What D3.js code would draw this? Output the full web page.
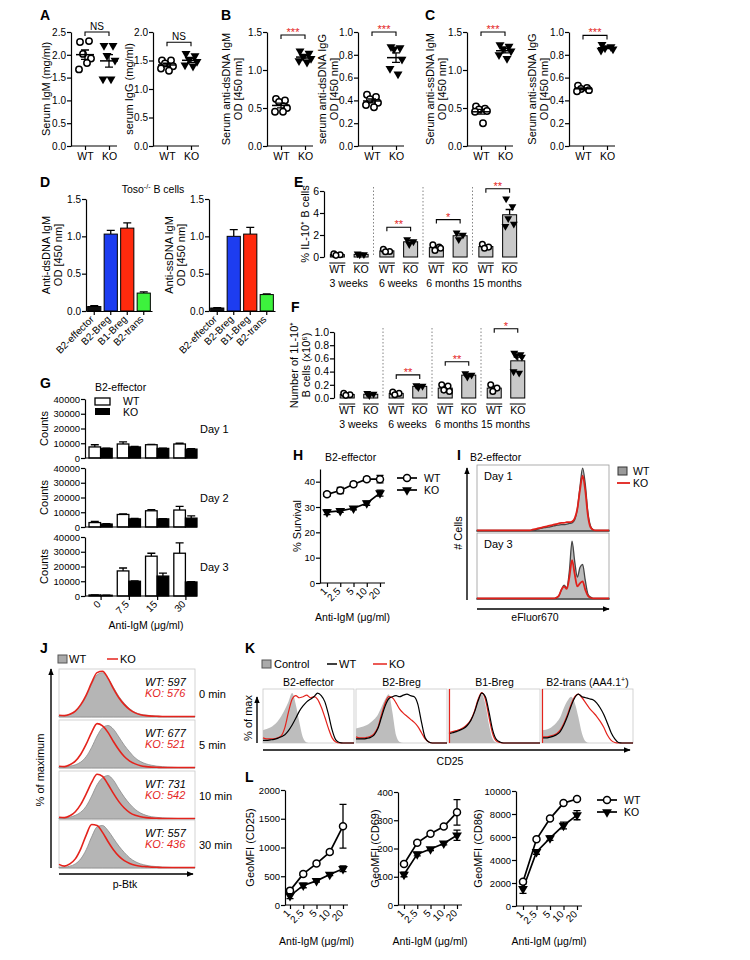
<!DOCTYPE html>
<html>
<head>
<meta charset="utf-8">
<script src="https://cdn.jsdelivr.net/npm/d3@7"></script>
<style>
  body { margin: 0; background: #fff; }
  svg { font-family: "Liberation Sans", Arial, sans-serif; }
</style>
</head>
<body>
<svg id="fig" width="750" height="960"></svg>
<script>
// ---- data ----
var groups = ["WT", "KO"];

// A: serum Ig
var igmWT = [2.28, 2.3, 2.02, 1.92, 1.68, 1.82];
var igmKO = [2.2, 2.2, 1.98, 1.88, 1.47, 1.47];
var iggWT = [1.5, 1.5, 1.45, 1.4, 1.36, 1.32];
var iggKO = [1.62, 1.58, 1.52, 1.48, 1.42, 1.4];
// B: anti-dsDNA
var dsIgmWT = [0.62, 0.6, 0.58, 0.5, 0.45, 0.45];
var dsIgmKO = [1.25, 1.22, 1.18, 1.15, 1.12, 1.1];
var dsIggWT = [0.45, 0.43, 0.41, 0.38, 0.36, 0.34];
var dsIggKO = [0.87, 0.86, 0.85, 0.76, 0.68, 0.63];
// C: anti-ssDNA
var ssIgmWT = [0.52, 0.49, 0.48, 0.46, 0.45, 0.3];
var ssIgmKO = [1.33, 1.31, 1.28, 1.25, 1.2, 1.15];
var ssIggWT = [0.53, 0.51, 0.5, 0.49, 0.48];
var ssIggKO = [0.89, 0.87, 0.86, 0.85, 0.84];

// D: transfer into Toso-/-
var subsets = ["B2-effector", "B2-Breg", "B1-Breg", "B2-trans"];
var subsetColors = ["#111111", "#1d3df0", "#ff2a0d", "#3df23d"];
var dsTrans = [0.06, 1.03, 1.11, 0.24];
var dsTransErr = [0.01, 0.05, 0.07, 0.015];
var ssTrans = [0.04, 1.0, 1.03, 0.22];
var ssTransErr = [0.005, 0.09, 0.09, 0.01];

// E, F: IL-10+ B cells by age
var ageGroups = ["3 weeks", "6 weeks", "6 months", "15 months"];
var il10PctWT = [[0.3, 0.2, 0.15], [0.7, 0.5, 0.48], [1.1, 0.9, 0.6, 0.8], [1.15, 0.9, 0.8]];
var il10PctKO = [[0.3, 0.22, 0.2], [1.6, 1.4, 1.15], [2.2, 2.0, 1.6], [5.3, 4.6, 3.5, 3.0, 2.8]];
var il10PctSig = ["", "**", "*", "**"];
var il10PctSigAt = [0, 2.7, 3.4, 6.2];
var il10NumWT = [[0.07, 0.05, 0.04], [0.09, 0.07, 0.05], [0.2, 0.18, 0.12, 0.1], [0.2, 0.15, 0.1]];
var il10NumKO = [[0.07, 0.06, 0.04], [0.19, 0.18, 0.16], [0.37, 0.35, 0.32], [0.68, 0.66, 0.64, 0.62, 0.4, 0.38]];
var il10NumSig = ["", "**", "**", "*"];
var il10NumSigAt = [0, 0.35, 0.55, 1.05];

// G: cell counts
var gDoses = ["0", "7.5", "15", "30"];
var gDays = ["Day 1", "Day 2", "Day 3"];
var countWT = [[7500, 9500, 9000, 9500], [3000, 8500, 11000, 11500], [700, 17000, 27000, 29000]];
var countWTerr = [[1500, 1500, 300, 500], [800, 300, 700, 2500], [100, 2000, 2000, 7000]];
var countKO = [[6500, 7500, 6500, 6000], [2000, 5500, 5500, 6000], [500, 10000, 13500, 9500]];
var countKOerr = [[200, 300, 200, 300], [200, 300, 200, 1500], [100, 300, 2000, 300]];

// H, L: dose response
var doses = ["1", "2.5", "5", "10", "20"];
var survWT = [35, 36.5, 39, 41, 41], survWTerr = [0.8, 1.2, 0.8, 0.8, 1.5];
var survKO = [28, 28.5, 29.5, 31.5, 35.5], survKOerr = [1, 0.6, 0.6, 0.8, 1.2];
var cd25WT = [250, 540, 720, 920, 1370], cd25WTerr = [30, 30, 30, 30, 380];
var cd25KO = [160, 340, 420, 530, 630], cd25KOerr = [50, 40, 20, 20, 50];
var cd69WT = [145, 220, 252, 278, 328], cd69WTerr = [5, 5, 5, 5, 45];
var cd69KO = [108, 180, 198, 218, 247], cd69KOerr = [8, 6, 5, 5, 18];
var cd86WT = [2100, 5800, 7600, 8950, 9300], cd86WTerr = [100, 100, 100, 100, 100];
var cd86KO = [1500, 4700, 5900, 7000, 7900], cd86KOerr = [400, 200, 200, 300, 400];

// I: eFluor670 histograms (51 bins, low -> high)
var efDay1WT = [.01,.01,.01,.01,.01,.01,.01,.01,.01,.01,.01,.01,.01,.01,.01,.01,.01,.01,.01,.01,.01,.015,.02,.03,.04,.05,.055,.06,.07,.08,.09,.095,.1,.1,.11,.12,.13,.18,.35,.7,1.0,.75,.3,.08,.02,.01,.01,.01,.01,.01,.01];
var efDay1KO = [.01,.01,.01,.01,.01,.01,.01,.01,.01,.01,.01,.01,.01,.01,.01,.01,.01,.01,.01,.01,.01,.02,.03,.04,.05,.06,.07,.08,.09,.1,.11,.12,.13,.13,.14,.14,.15,.2,.35,.65,.88,.65,.25,.06,.02,.01,.01,.01,.01,.01,.01];
var efDay3WT = [.01,.01,.01,.01,.01,.01,.01,.01,.01,.01,.01,.01,.01,.01,.01,.01,.01,.01,.01,.01,.01,.01,.01,.01,.01,.01,.01,.01,.01,.01,.02,.05,.15,.22,.18,.45,.92,.6,.35,.5,.55,.3,.08,.03,.01,.01,.01,.01,.01,.01,.01];
var efDay3KO = [.01,.01,.01,.01,.01,.01,.01,.01,.01,.01,.01,.01,.01,.01,.01,.01,.01,.01,.01,.01,.01,.01,.01,.01,.01,.01,.01,.01,.01,.01,.02,.05,.15,.2,.16,.35,.62,.4,.2,.25,.28,.15,.05,.02,.01,.01,.01,.01,.01,.01,.01];

// J: p-Btk histograms (26 bins)
var btkTimes = ["0 min", "5 min", "10 min", "30 min"];
var btkMfiWT = [597, 677, 731, 557];
var btkMfiKO = [576, 521, 542, 436];
var btkWT = [
  [.02,.03,.06,.12,.25,.45,.72,.92,.97,.85,.65,.45,.3,.18,.1,.06,.04,.03,.02,.01,.01,.01,.01,.01,.01,.01],
  [.02,.02,.04,.07,.13,.25,.45,.7,.88,.93,.85,.68,.5,.35,.22,.14,.09,.06,.04,.03,.02,.015,.01,.01,.01,.01],
  [.02,.02,.04,.08,.15,.28,.5,.75,.9,.95,.85,.66,.48,.33,.21,.13,.08,.05,.035,.025,.02,.015,.01,.01,.01,.01],
  [.02,.02,.04,.09,.2,.4,.68,.9,.93,.82,.65,.48,.34,.22,.14,.09,.06,.04,.03,.02,.015,.01,.01,.01,.01,.01]];
var btkKO = [
  [.04,.03,.06,.13,.27,.48,.75,.97,1.0,.85,.62,.42,.27,.16,.09,.05,.03,.02,.015,.01,.01,.01,.01,.01,.01,.01],
  [.04,.03,.07,.15,.3,.52,.78,.97,.92,.78,.58,.4,.25,.15,.09,.05,.03,.02,.015,.01,.01,.01,.01,.01,.01,.01],
  [.04,.03,.07,.16,.32,.55,.8,.98,.93,.76,.56,.38,.24,.14,.08,.05,.03,.02,.015,.01,.01,.01,.01,.01,.01,.01],
  [.08,.04,.09,.2,.42,.72,.95,.93,.78,.58,.4,.26,.16,.1,.06,.04,.03,.02,.015,.01,.01,.01,.01,.01,.01,.01]];

// K: CD25 histograms (26 bins)
var cd25Subsets = ["B2-effector", "B2-Breg", "B1-Breg", "B2-trans (AA4.1"];
var cd25Ctrl = [
  [.25,.27,.3,.35,.42,.52,.65,.8,.97,.75,.4,.1,.01,0,0,0,0,0,0,0,0,0,0,0,0,0],
  [.28,.3,.32,.35,.4,.46,.55,.7,.85,.95,.6,.15,.02,0,0,0,0,0,0,0,0,0,0,0,0,0],
  [.2,.22,.25,.27,.3,.35,.45,.6,.85,.95,.75,.35,.08,.01,0,0,0,0,0,0,0,0,0,0,0,0],
  [.25,.26,.28,.33,.4,.5,.68,.82,.9,.78,.5,.18,.03,0,0,0,0,0,0,0,0,0,0,0,0,0]];
var cd25HistWT = [
  [.05,.05,.06,.07,.09,.12,.16,.24,.35,.48,.62,.72,.8,.85,.9,.97,.92,.8,.55,.25,.06,.01,0,0,0,0],
  [.08,.08,.08,.09,.11,.16,.28,.5,.72,.86,.9,.92,.9,.93,.95,.92,.9,.75,.4,.1,.02,0,0,0,0,0],
  [.18,.2,.22,.25,.28,.34,.44,.6,.82,.97,.9,.6,.25,.07,.02,0,0,0,0,0,0,0,0,0,0,0],
  [.1,.1,.11,.13,.16,.22,.35,.52,.72,.88,.95,.9,.88,.86,.84,.78,.68,.55,.38,.2,.08,.01,0,0,0,0]];
var cd25HistKO = [
  [.1,.08,.08,.08,.1,.14,.3,.6,.85,.92,.88,.9,.93,.88,.9,.85,.7,.5,.28,.1,.02,0,0,0,0,0],
  [.12,.1,.1,.11,.13,.18,.3,.55,.78,.9,.88,.78,.66,.58,.52,.46,.4,.32,.2,.08,.02,0,0,0,0,0],
  [.2,.22,.24,.26,.3,.36,.45,.62,.85,.98,.85,.5,.18,.04,.01,0,0,0,0,0,0,0,0,0,0,0],
  [.12,.12,.13,.15,.18,.25,.38,.55,.75,.9,.95,.88,.78,.68,.6,.52,.42,.3,.15,.05,.01,0,0,0,0,0]];

// ---- helpers ----
var svg = d3.select("#fig");
var RED = "#e4231c", FONT = "'Liberation Sans', Arial, sans-serif";
var JIT = [-5, 4, -2, 6, -6, 2, 0];

svg.append("defs").append("marker").attr("id", "arr").attr("viewBox", "0 0 10 10")
    .attr("refX", 9).attr("refY", 5).attr("markerWidth", 5).attr("markerHeight", 5).attr("orient", "auto")
  .append("path").attr("d", "M0,1L10,5L0,9Z").attr("fill", "#000");

function text(g, s, x, y, o) {
  o = o || {};
  return g.append("text").attr("x", x).attr("y", y).attr("font-size", o.size || 11)
    .attr("text-anchor", o.anchor || "start").attr("fill", o.fill || "#000")
    .attr("font-style", o.italic ? "italic" : null).attr("font-weight", o.bold ? "bold" : null)
    .text(s);
}
function yLabel(g, lines, x, cy, size) {
  var t = g.append("text").attr("transform", "translate(" + x + "," + cy + ") rotate(-90)")
    .attr("text-anchor", "middle").attr("font-size", size || 11);
  lines.forEach(function (l, i) { t.append("tspan").attr("x", 0).attr("y", 4 + i * 12).text(l); });
  return t;
}
function styleAxis(ax, size) {
  ax.attr("font-family", FONT).attr("font-size", size || 10.5);
  ax.selectAll(".domain, .tick line").attr("stroke", "#000").attr("stroke-width", 1.2);
  ax.selectAll(".tick text").attr("fill", "#000");
  return ax;
}
function leftAxis(g, y, ticks, fmt, size) {
  return styleAxis(g.append("g").call(d3.axisLeft(y).tickValues(ticks).tickFormat(fmt)
    .tickSize(4).tickPadding(1).tickSizeOuter(0)), size);
}
function rotateLabels(ax) {
  ax.selectAll(".tick text").attr("transform", "rotate(-45)").attr("text-anchor", "end")
    .attr("x", -6).attr("y", 3).attr("dy", "0.35em");
}
function marker(g, kind, cx, cy, r) {
  r = r || 3;
  if (kind === 0) {
    g.append("circle").attr("cx", cx).attr("cy", cy).attr("r", r)
      .attr("fill", "#fff").attr("stroke", "#000").attr("stroke-width", 1.5);
  } else {
    g.append("path").attr("d", d3.symbol().type(d3.symbolTriangle).size(r * r * 3.4)())
      .attr("transform", "translate(" + cx + "," + cy + ") rotate(180)").attr("fill", "#000");
  }
}
function whisker(g, cx, y1, y2, cap) {
  g.append("path").attr("d", "M" + cx + "," + y1 + "V" + y2 + "M" + (cx - cap) + "," + y2 + "H" + (cx + cap))
    .attr("stroke", "#000").attr("stroke-width", 1.3).attr("fill", "none");
}
function bracket(g, x1, x2, y, label, color) {
  g.append("path").attr("d", "M" + x1 + "," + (y + 4) + "V" + y + "H" + x2 + "V" + (y + 4))
    .attr("fill", "none").attr("stroke", "#000").attr("stroke-width", 1.1);
  text(g, label, (x1 + x2) / 2, label === "NS" ? y - 2 : y + 1, { anchor: "middle", fill: color, size: label === "NS" ? 10 : 11 });
}
function arrow(x1, y1, x2, y2) {
  svg.append("line").attr("x1", x1).attr("y1", y1).attr("x2", x2).attr("y2", y2)
    .attr("stroke", "#000").attr("stroke-width", 1.4).attr("marker-end", "url(#arr)");
}
function letter(t, x, y) { text(svg, t, x, y, { size: 14, bold: true }); }
function sem(v) { return d3.deviation(v) / Math.sqrt(v.length); }

// ---- scatter with mean +/- SEM (A, B, C) ----
function dotPlot(o) {
  var h = o.bottom - o.top, w = 46;
  var g = svg.append("g").attr("transform", "translate(" + o.x + "," + o.top + ")");
  var y = d3.scaleLinear().domain(o.domain).range([h, 0]);
  var x = d3.scalePoint().domain(groups).range([14, 38]);
  leftAxis(g, y, o.ticks, d3.format(".1f"), 10);
  var xa = styleAxis(g.append("g").attr("transform", "translate(0," + h + ")")
    .call(d3.axisBottom(x).tickSize(4).tickSizeOuter(0)));
  xa.select(".domain").attr("d", "M0,0H" + w);
  [o.wt, o.ko].forEach(function (vals, gi) {
    var cx = x(groups[gi]);
    vals.forEach(function (v, i) { marker(g, gi, cx + JIT[i % JIT.length], y(v), 3.2); });
    var m = d3.mean(vals), s = sem(vals);
    g.append("line").attr("x1", cx - 9).attr("x2", cx + 9).attr("y1", y(m)).attr("y2", y(m))
      .attr("stroke", "#000").attr("stroke-width", 1.5);
    whisker(g, cx, y(m), y(m + s), 4);
    whisker(g, cx, y(m), y(m - s), 4);
  });
  bracket(g, x("WT"), x("KO"), y(o.sigAt), o.sig, o.sig === "NS" ? "#000" : RED);
  yLabel(g, o.label, o.labelX - o.x, h / 2);
}

letter("A", 40, 20);
dotPlot({ x: 71, top: 32, bottom: 146, domain: [0, 2.5], ticks: [0, 0.5, 1, 1.5, 2, 2.5],
  wt: igmWT, ko: igmKO, sig: "NS", sigAt: 2.5, label: ["Serum IgM (mg/ml)"], labelX: 46 });
dotPlot({ x: 153, top: 32, bottom: 146, domain: [0, 2], ticks: [0, 0.5, 1, 1.5, 2],
  wt: iggWT, ko: iggKO, sig: "NS", sigAt: 1.82, label: ["serum IgG (mg/ml)"], labelX: 129 });
letter("B", 221, 20);
dotPlot({ x: 267, top: 32, bottom: 146, domain: [0, 1.5], ticks: [0, 0.5, 1, 1.5],
  wt: dsIgmWT, ko: dsIgmKO, sig: "***", sigAt: 1.46, label: ["Serum anti-dsDNA IgM", "OD [450 nm]"], labelX: 226 });
dotPlot({ x: 358, top: 32, bottom: 146, domain: [0, 1], ticks: [0, 0.2, 0.4, 0.6, 0.8, 1],
  wt: dsIggWT, ko: dsIggKO, sig: "***", sigAt: 1.0, label: ["serum anti-dsDNA IgG", "OD [450 nm]"], labelX: 322 });
letter("C", 425, 20);
dotPlot({ x: 467, top: 32, bottom: 146, domain: [0, 1.5], ticks: [0, 0.5, 1, 1.5],
  wt: ssIgmWT, ko: ssIgmKO, sig: "***", sigAt: 1.5, label: ["Serum anti-ssDNA IgM", "OD [450 nm]"], labelX: 430 });
dotPlot({ x: 569, top: 32, bottom: 146, domain: [0, 1], ticks: [0, 0.2, 0.4, 0.6, 0.8, 1],
  wt: ssIggWT, ko: ssIggKO, sig: "***", sigAt: 0.97, label: ["Serum anti-ssDNA IgG", "OD [450 nm]"], labelX: 532 });

// ---- D: coloured bars ----
function subsetBars(o) {
  var h = 112, w = 66;
  var g = svg.append("g").attr("transform", "translate(" + o.x + ",199)");
  var y = d3.scaleLinear().domain([0, 1.5]).range([h, 0]);
  var x = d3.scaleBand().domain(subsets).range([0, w]).paddingInner(0.2).paddingOuter(0.1);
  leftAxis(g, y, [0, 0.5, 1, 1.5], d3.format(".1f"), 10);
  subsets.forEach(function (s, i) {
    var cx = x(s) + x.bandwidth() / 2;
    whisker(g, cx, y(o.vals[i]), y(o.vals[i] + o.err[i]), 4);
    g.append("rect").attr("x", x(s)).attr("width", x.bandwidth()).attr("y", y(o.vals[i]))
      .attr("height", h - y(o.vals[i])).attr("fill", subsetColors[i]).attr("stroke", "#000").attr("stroke-width", 1);
  });
  var xa = styleAxis(g.append("g").attr("transform", "translate(0," + h + ")")
    .call(d3.axisBottom(x).tickSize(4).tickSizeOuter(0)), 10);
  rotateLabels(xa);
  yLabel(g, o.label, o.labelX - o.x, h / 2);
}
letter("D", 40, 187);
var toso = text(svg, "Toso", 153, 193, { anchor: "middle", size: 10.5 });
toso.append("tspan").attr("dy", -4).attr("font-size", 7).text("-/-");
toso.append("tspan").attr("dy", 4).text(" B cells");
subsetBars({ x: 86, vals: dsTrans, err: dsTransErr, label: ["Anti-dsDNA IgM", "OD [450 nm]"], labelX: 46 });
subsetBars({ x: 209, vals: ssTrans, err: ssTransErr, label: ["Anti-ssDNA IgM", "OD [450 nm]"], labelX: 169 });

// ---- E, F: grey bars by age ----
function agePlot(o) {
  var h = o.bottom - o.top;
  var g = svg.append("g").attr("transform", "translate(" + o.x + "," + o.top + ")");
  var y = d3.scaleLinear().domain(o.domain).range([h, 0]);
  var band = d3.scaleBand().domain(ageGroups).range([0, o.w]);
  var bw = band.bandwidth();
  var xin = d3.scalePoint().domain(groups).range([bw * 0.27, bw * 0.75]);
  leftAxis(g, y, o.ticks, d3.format(o.fmt));
  ageGroups.forEach(function (ag, i) {
    var b0 = band(ag);
    if (i > 0) g.append("line").attr("x1", b0).attr("x2", b0).attr("y1", -4).attr("y2", h)
      .attr("stroke", "#666").attr("stroke-width", 0.8).attr("stroke-dasharray", "1.5,2");
    [o.wt[i], o.ko[i]].forEach(function (vals, gi) {
      var cx = b0 + xin(groups[gi]);
      var m = d3.mean(vals), s = sem(vals);
      whisker(g, cx, y(m), y(m + s), 4);
      g.append("rect").attr("x", cx - 7).attr("width", 14).attr("y", y(m)).attr("height", h - y(m))
        .attr("fill", "#c9c9c9").attr("stroke", "#000").attr("stroke-width", 1);
      vals.forEach(function (v, k) { marker(g, gi, cx + JIT[k % JIT.length] * 0.7, y(v), 2.8); });
      g.append("line").attr("x1", cx - 8).attr("x2", cx + 8).attr("y1", h + 6).attr("y2", h + 6)
        .attr("stroke", "#000").attr("stroke-width", 1);
      text(g, groups[gi], cx, h + 16, { anchor: "middle", size: 10.5 });
    });
    text(g, ag, b0 + bw / 2, h + 30, { anchor: "middle", size: 10.5 });
    if (o.sig[i]) bracket(g, b0 + xin("WT"), b0 + xin("KO"), y(o.sigAt[i]), o.sig[i], RED);
  });
  yLabel(g, o.label, o.labelX - o.x, h / 2);
}
letter("E", 294, 187);
agePlot({ x: 324, top: 191, bottom: 257, w: 198, domain: [0, 6], ticks: [0, 2, 4, 6], fmt: "d",
  wt: il10PctWT, ko: il10PctKO, sig: il10PctSig, sigAt: il10PctSigAt,
  label: ["% IL-10\u207A B cells"], labelX: 305 });
letter("F", 291, 312);
agePlot({ x: 334, top: 332, bottom: 398, w: 196, domain: [0, 1], ticks: [0, 0.2, 0.4, 0.6, 0.8, 1], fmt: ".1f",
  wt: il10NumWT, ko: il10NumKO, sig: il10NumSig, sigAt: il10NumSigAt,
  label: ["Number of 1L-10\u207A", "B cells (x10\u2076)"], labelX: 294 });

// ---- G: counts ----
letter("G", 40, 388);
text(svg, "B2-effector", 95, 391, { size: 10.5 });
svg.append("rect").attr("x", 95).attr("y", 398).attr("width", 15).attr("height", 7).attr("fill", "#fff").attr("stroke", "#000").attr("stroke-width", 1.3);
svg.append("rect").attr("x", 95).attr("y", 408).attr("width", 15).attr("height", 7).attr("fill", "#000");
text(svg, "WT", 123, 405, { size: 10.5 });
text(svg, "KO", 123, 416, { size: 10.5 });
var gTops = [399, 468, 537];
gDays.forEach(function (day, di) {
  var h = 59, w = 112;
  var g = svg.append("g").attr("transform", "translate(85," + gTops[di] + ")");
  var y = d3.scaleLinear().domain([0, 40000]).range([h, 0]);
  var x0 = d3.scaleBand().domain(gDoses).range([4, w]).paddingInner(0.18);
  var x1 = d3.scaleBand().domain(groups).range([0, x0.bandwidth()]);
  leftAxis(g, y, [0, 10000, 20000, 30000, 40000], d3.format("d"), 9.5);
  gDoses.forEach(function (dz, i) {
    [[countWT, countWTerr, "#fff"], [countKO, countKOerr, "#000"]].forEach(function (s, gi) {
      var v = s[0][di][i], bx = x0(dz) + x1(groups[gi]);
      whisker(g, bx + x1.bandwidth() / 2, y(v), y(v + s[1][di][i]), 4);
      g.append("rect").attr("x", bx).attr("width", x1.bandwidth()).attr("y", y(v)).attr("height", h - y(v))
        .attr("fill", s[2]).attr("stroke", "#000").attr("stroke-width", 1.3);
    });
  });
  var xs = d3.scalePoint().domain(gDoses).range([x0(gDoses[0]) + x0.bandwidth() / 2, x0(gDoses[3]) + x0.bandwidth() / 2]);
  var xa = styleAxis(g.append("g").attr("transform", "translate(0," + h + ")")
    .call(d3.axisBottom(xs).tickSize(di === 2 ? 4 : 0).tickSizeOuter(0)), 10);
  xa.select(".domain").attr("d", "M0,0H" + w);
  if (di === 2) rotateLabels(xa); else xa.selectAll(".tick text").remove();
  text(g, day, 115, h / 2 + 4, { size: 11 });
  yLabel(g, ["Counts"], 44 - 85, h / 2);
});
text(svg, "Anti-IgM (\u03BCg/ml)", 146, 629, { anchor: "middle", size: 10.5 });

// ---- H, L: dose-response lines ----
function linePlot(o) {
  var h = o.bottom - o.top;
  var g = svg.append("g").attr("transform", "translate(" + o.x + "," + o.top + ")");
  var y = d3.scaleLinear().domain(o.domain).range([h, 0]);
  var x = d3.scalePoint().domain(doses).range(o.xr);
  leftAxis(g, y, o.ticks, d3.format("d"), 9.5);
  var xa = styleAxis(g.append("g").attr("transform", "translate(0," + h + ")")
    .call(d3.axisBottom(x).tickSize(4).tickSizeOuter(0)), 10);
  xa.select(".domain").attr("d", "M0,0H" + o.w);
  rotateLabels(xa);
  var line = d3.line().x(function (d, i) { return x(doses[i]); }).y(function (d) { return y(d); });
  o.series.forEach(function (s) {
    g.append("path").attr("d", line(s.vals)).attr("fill", "none").attr("stroke", "#000").attr("stroke-width", 1.7);
    s.vals.forEach(function (v, i) {
      whisker(g, x(doses[i]), y(v), y(v + s.err[i]), 3.5);
      whisker(g, x(doses[i]), y(v), y(v - s.err[i]), 3.5);
    });
  });
  o.series.forEach(function (s, si) {
    s.vals.forEach(function (v, i) { marker(g, si, x(doses[i]), y(v), 3.5); });
  });
  yLabel(g, [o.label], o.labelX - o.x, h / 2);
  text(g, "Anti-IgM (\u03BCg/ml)", o.w / 2, o.xLabelY - o.top, { anchor: "middle", size: 10.5 });
}
function lineLegend(x, y) {
  groups.forEach(function (gr, i) {
    var yy = y + i * 12;
    svg.append("line").attr("x1", x).attr("x2", x + 20).attr("y1", yy).attr("y2", yy).attr("stroke", "#000").attr("stroke-width", 1.7);
    marker(svg, i, x + 10, yy, 3.5);
    text(svg, gr, x + 27, yy + 4, { size: 10.5 });
  });
}
letter("H", 293, 460);
text(svg, "B2-effector", 325, 461, { size: 10.5 });
linePlot({ x: 320, top: 469, bottom: 583, w: 65, xr: [7, 60], domain: [0, 45], ticks: [0, 10, 20, 30, 40],
  series: [{ vals: survWT, err: survWTerr }, { vals: survKO, err: survKOerr }],
  label: "% Survival", labelX: 297, xLabelY: 621 });
lineLegend(397, 478);

letter("L", 245, 782);
linePlot({ x: 285, top: 790, bottom: 905, w: 63, xr: [5, 58], domain: [0, 2000], ticks: [0, 500, 1000, 1500, 2000],
  series: [{ vals: cd25WT, err: cd25WTerr }, { vals: cd25KO, err: cd25KOerr }],
  label: "GeoMFI (CD25)", labelX: 250, xLabelY: 945 });
linePlot({ x: 398, top: 792, bottom: 905, w: 64, xr: [6, 59], domain: [0, 400], ticks: [0, 100, 200, 300, 400],
  series: [{ vals: cd69WT, err: cd69WTerr }, { vals: cd69KO, err: cd69KOerr }],
  label: "GeoMFI (CD69)", labelX: 375, xLabelY: 945 });
linePlot({ x: 516, top: 791, bottom: 906, w: 66, xr: [7, 61], domain: [0, 10000], ticks: [0, 2000, 4000, 6000, 8000, 10000],
  series: [{ vals: cd86WT, err: cd86WTerr }, { vals: cd86KO, err: cd86KOerr }],
  label: "GeoMFI (CD86)", labelX: 478, xLabelY: 945 });
lineLegend(597, 800);

// ---- histograms ----
function histPanel(o) {
  var g = svg.append("g").attr("transform", "translate(" + o.x + "," + o.y + ")");
  var x = d3.scaleLinear().domain([0, 1]).range([0, o.w]);
  var y = d3.scaleLinear().domain([0, 1.05]).range([o.h, 0]);
  g.append("rect").attr("width", o.w).attr("height", o.h).attr("fill", "#fff")
    .attr("stroke", o.frame || "#c8c8c8").attr("stroke-width", 0.8);
  o.curves.forEach(function (c) {
    var step = 1 / (c.vals.length - 1);
    var pts = c.vals.map(function (v, i) { return [x(i * step), y(v)]; });
    if (c.fill) {
      g.append("path").attr("d", d3.area().x(function (d) { return d[0]; }).y0(o.h)
          .y1(function (d) { return d[1]; }).curve(d3.curveMonotoneX)(pts))
        .attr("fill", c.fill).attr("stroke", c.stroke || "none").attr("stroke-width", c.sw || 0.8);
    } else {
      g.append("path").attr("d", d3.line().curve(d3.curveMonotoneX)(pts))
        .attr("fill", "none").attr("stroke", c.stroke).attr("stroke-width", c.sw || 1.4);
    }
  });
  return g;
}

// I
letter("I", 457, 460);
text(svg, "B2-effector", 470, 461, { size: 10.5 });
[[efDay1WT, efDay1KO, "Day 1"], [efDay3WT, efDay3KO, "Day 3"]].forEach(function (d, i) {
  var g = histPanel({ x: 477, y: 465 + i * 68, w: 132, h: 66, frame: "#999",
    curves: [{ vals: d[0], fill: "#bdbdbd", stroke: "#444", sw: 1.3 }, { vals: d[1], stroke: "#e0201a", sw: 1.8 }] });
  text(g, d[2], 7, 15, { size: 11 });
});
arrow(467, 600, 467, 468);
arrow(477, 609, 609, 609);
yLabel(svg, ["# Cells"], 458, 533);
text(svg, "eFluor670", 535, 621, { anchor: "middle", size: 10.5 });
svg.append("rect").attr("x", 618).attr("y", 467).attr("width", 9).attr("height", 8).attr("fill", "#9a9a9a").attr("stroke", "#333");
text(svg, "WT", 633, 475, { size: 10.5 });
svg.append("line").attr("x1", 617).attr("x2", 630).attr("y1", 483).attr("y2", 483).attr("stroke", "#e0201a").attr("stroke-width", 1.8);
text(svg, "KO", 633, 487, { size: 10.5 });

// J
letter("J", 40, 653);
svg.append("rect").attr("x", 58).attr("y", 655).attr("width", 9).attr("height", 8).attr("fill", "#aaa").attr("stroke", "#555");
text(svg, "WT", 69, 663, { size: 11 });
svg.append("line").attr("x1", 107).attr("x2", 118).attr("y1", 659).attr("y2", 659).attr("stroke", RED).attr("stroke-width", 1.5);
text(svg, "KO", 120, 663, { size: 11 });
var jTops = [669, 720, 771, 820];
btkTimes.forEach(function (t, i) {
  var g = histPanel({ x: 59, y: jTops[i], w: 136, h: 48,
    curves: [{ vals: btkWT[i], fill: "#b5b5b5", stroke: "#8a8a8a", sw: 0.8 }, { vals: btkKO[i], stroke: RED, sw: 1.6 }] });
  text(g, "WT: " + btkMfiWT[i], 86, 17, { italic: true, size: 11 });
  text(g, "KO: " + btkMfiKO[i], 86, 28, { italic: true, size: 11, fill: RED });
  text(g, t, 140, 29, { size: 11 });
});
arrow(51, 868, 51, 669);
arrow(59, 874, 193, 874);
yLabel(svg, ["% of maximum"], 40, 770);
text(svg, "p-Btk", 125, 888, { anchor: "middle", size: 10.5 });

// K
letter("K", 245, 653);
svg.append("rect").attr("x", 262).attr("y", 660).attr("width", 9).attr("height", 8).attr("fill", "#aaa").attr("stroke", "#555");
text(svg, "Control", 274, 668, { size: 11 });
svg.append("line").attr("x1", 327).attr("x2", 337).attr("y1", 664).attr("y2", 664).attr("stroke", "#000").attr("stroke-width", 1.5);
text(svg, "WT", 339, 668, { size: 11 });
svg.append("line").attr("x1", 373).attr("x2", 387).attr("y1", 664).attr("y2", 664).attr("stroke", RED).attr("stroke-width", 1.5);
text(svg, "KO", 389, 668, { size: 11 });
var kLefts = [263, 356, 449, 542];
cd25Subsets.forEach(function (s, i) {
  var g = histPanel({ x: kLefts[i], y: 689, w: 91, h: 54,
    curves: [{ vals: cd25Ctrl[i], fill: "#bdbdbd" }, { vals: cd25HistKO[i], stroke: RED, sw: 1.2 },
             { vals: cd25HistWT[i], stroke: "#000", sw: 1.2 }] });
  if (i >= 2) g.append("line").attr("x1", 0.5).attr("x2", 0.5).attr("y1", 0).attr("y2", 54).attr("stroke", RED).attr("stroke-width", 1.2);
  var t = text(svg, s, kLefts[i] + 45.5, 686, { anchor: "middle", size: 10.5 });
  if (i === 3) { t.append("tspan").attr("dy", -4).attr("font-size", 7).text("+"); t.append("tspan").attr("dy", 4).text(")"); }
});
arrow(257, 743, 257, 697);
arrow(263, 750, 630, 750);
yLabel(svg, ["% of max"], 248, 718);
text(svg, "CD25", 450, 765, { anchor: "middle", size: 10.5 });
</script>
</body>
</html>
